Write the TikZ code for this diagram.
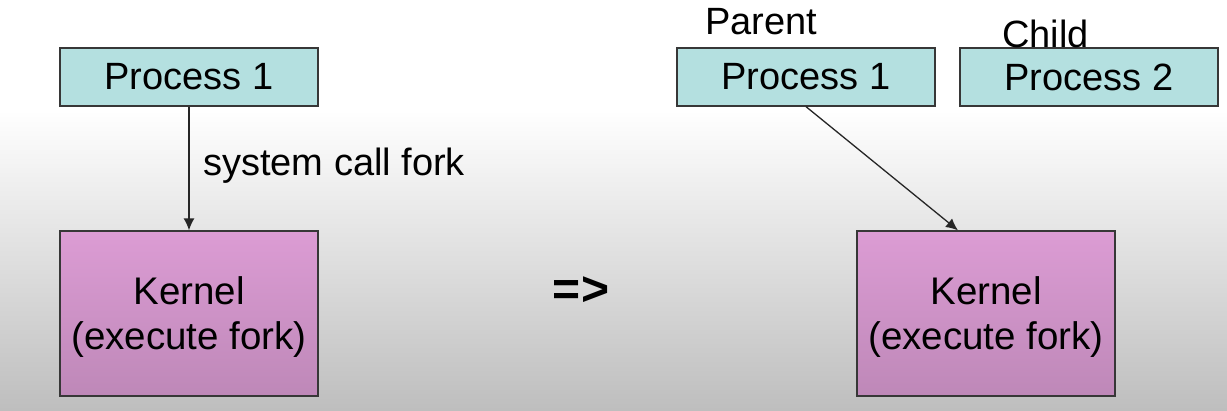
\documentclass[tikz,border=0pt]{standalone}
\usepackage{fontspec}
\setmainfont{Liberation Sans}
\usetikzlibrary{arrows.meta}
\definecolor{boxcyan}{RGB}{180,224,224}
\definecolor{kerntop}{RGB}{220,156,212}
\definecolor{kernbot}{RGB}{190,136,184}
\definecolor{bgbot}{RGB}{190,190,190}
\definecolor{edge}{RGB}{55,55,55}
\tikzset{
  proc/.style={draw=edge, line width=1.3pt, fill=boxcyan, minimum width=258pt, minimum height=58pt, inner sep=0pt, font=\fontsize{38}{45}\selectfont},
  kern/.style={draw=edge, line width=1.3pt, top color=kerntop, bottom color=kernbot, minimum width=258pt, minimum height=165pt, inner sep=0pt, align=center, text depth=-2pt, font=\fontsize{38.5}{45}\selectfont},
  lbl/.style={inner sep=0pt, font=\fontsize{38}{45}\selectfont},
  arr/.style={draw=black!85, line width=1.3pt, -{Latex[length=12pt,width=11pt]}}
}
\begin{document}
\begin{tikzpicture}[x=1pt,y=-1pt]
\useasboundingbox (0,0) rectangle (1227,410);
\fill[white] (0,0) rectangle (1227,110);
\shade[top color=white, bottom color=bgbot] (0,110) rectangle (1227,410);
% left
\node[proc] (p1) at (189,77) {Process 1};
\node[kern] (k1) at (189,313.5) {Kernel\\(execute fork)};
\draw[arr] (p1) -- (k1);
\node[lbl, anchor=base west] (call) at (203,175) {system call fork};
% middle
\node[inner sep=0pt, font=\fontsize{48}{50}\selectfont\bfseries] (imp) at (581,291) {=>};
% right
\node[proc] (p1r) at (806,77) {Process 1};
\node[proc] (p2) at (1089,77) {Process 2};
\node[kern] (k2) at (986,313.5) {Kernel\\(execute fork)};
\node[lbl, anchor=base west] (parent) at (705,34) {Parent};
\node[lbl, anchor=base west] (child) at (1002,47) {Child};
\draw[arr] (p1r.south) -- ([xshift=-28pt]k2.north);
\end{tikzpicture}
\end{document}
